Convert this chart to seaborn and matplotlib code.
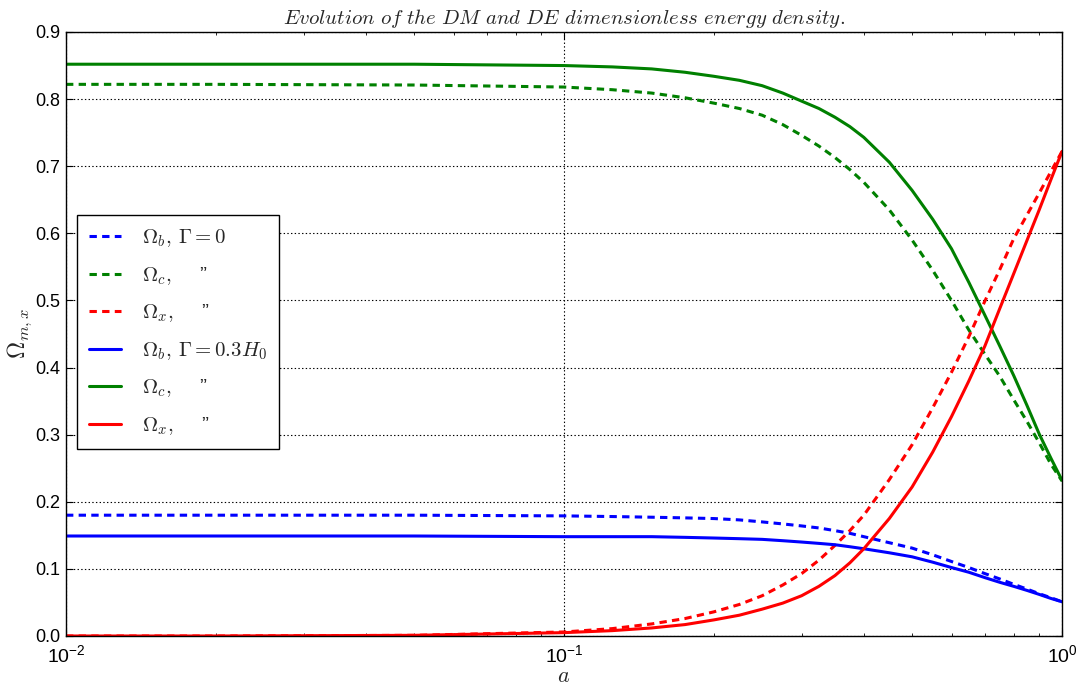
import numpy as np
import pandas as pd
import matplotlib
matplotlib.use("Agg")
import matplotlib.pyplot as plt
import seaborn as sns
from matplotlib.ticker import LogLocator

# ---- data ----
a_vals = [0.01, 0.02, 0.05, 0.1, 0.125, 0.15, 0.175, 0.2, 0.225, 0.25, 0.275, 0.3,
          0.325, 0.35, 0.375, 0.4, 0.45, 0.5, 0.55, 0.6, 0.65, 0.7, 0.75, 0.8,
          0.85, 0.9, 0.95, 1.0]

omega_b_g0 = [0.180, 0.180, 0.180, 0.179, 0.178, 0.177, 0.176, 0.175, 0.173, 0.170,
              0.167, 0.164, 0.161, 0.157, 0.153, 0.148, 0.139, 0.131, 0.121, 0.111,
              0.102, 0.093, 0.085, 0.077, 0.070, 0.063, 0.057, 0.051]
omega_c_g0 = [0.822, 0.822, 0.821, 0.818, 0.814, 0.809, 0.802, 0.794, 0.786, 0.776,
              0.762, 0.746, 0.730, 0.713, 0.695, 0.676, 0.635, 0.590, 0.545, 0.500,
              0.456, 0.420, 0.387, 0.352, 0.320, 0.288, 0.256, 0.231]
omega_x_g0 = [0.0, 0.0, 0.001, 0.006, 0.011, 0.018, 0.026, 0.036, 0.047, 0.060,
              0.076, 0.093, 0.113, 0.135, 0.157, 0.180, 0.233, 0.285, 0.340, 0.393,
              0.446, 0.499, 0.546, 0.592, 0.627, 0.660, 0.692, 0.722]

omega_b_g03 = [0.149, 0.149, 0.149, 0.148, 0.148, 0.148, 0.147, 0.146, 0.145, 0.144,
               0.142, 0.140, 0.138, 0.136, 0.133, 0.130, 0.124, 0.118, 0.110, 0.102,
               0.095, 0.087, 0.080, 0.074, 0.068, 0.062, 0.056, 0.051]
omega_c_g03 = [0.852, 0.852, 0.852, 0.850, 0.848, 0.845, 0.840, 0.834, 0.828, 0.820,
               0.809, 0.797, 0.786, 0.773, 0.759, 0.743, 0.706, 0.664, 0.621, 0.577,
               0.527, 0.478, 0.432, 0.388, 0.344, 0.301, 0.265, 0.232]
omega_x_g03 = [0.0, 0.0, 0.001, 0.005, 0.008, 0.012, 0.017, 0.024, 0.031, 0.040,
               0.049, 0.060, 0.074, 0.090, 0.109, 0.130, 0.175, 0.222, 0.274, 0.327,
               0.380, 0.432, 0.488, 0.540, 0.589, 0.635, 0.680, 0.722]

labels = [r'$\Omega_b,\, \Gamma=0$',
          r'$\Omega_c,\ \quad$' + '”',
          r'$\Omega_x,\ \quad$' + '”',
          r'$\Omega_b,\, \Gamma=0.3H_0$',
          r'$\Omega_c,\ \quad$' + '”',
          r'$\Omega_x,\ \quad$' + '”']
series = [omega_b_g0, omega_c_g0, omega_x_g0, omega_b_g03, omega_c_g03, omega_x_g03]
colors = ['#0000ff', '#008000', '#ff0000', '#0000ff', '#008000', '#ff0000']
dashed = [True, True, True, False, False, False]

title = 'Evolution of the DM and DE dimensionless energy density.'

# ---- style ----
sns.set_style("ticks")
plt.rcParams['font.family'] = ['Liberation Sans', 'DejaVu Sans']
plt.rcParams['mathtext.fontset'] = 'cm'
plt.rcParams['lines.scale_dashes'] = False

fig = plt.figure(figsize=(10.83, 6.88), dpi=100)
ax = fig.add_axes([66 / 1083, 52 / 688, 996 / 1083, 604 / 688])

for lab, vals, col, dsh in zip(labels, series, colors, dashed):
    df = pd.DataFrame({'a': a_vals, 'omega': vals})
    sns.lineplot(data=df, x='a', y='omega', ax=ax, color=col, lw=2.2,
                 label=lab, sort=True)
    line = ax.get_lines()[-1]
    if dsh:
        line.set_dashes((5.3, 3.8))

ax.set_xscale('log')
ax.set_xlim(0.01, 1.0)
ax.set_ylim(0.0, 0.9)
ax.xaxis.set_major_locator(LogLocator(base=10))
ax.xaxis.set_minor_locator(LogLocator(base=10, subs=np.arange(2, 10)))
yt = np.arange(0, 0.91, 0.1)
ax.set_yticks(yt)
ax.set_yticklabels([f'{v:.1f}' for v in yt])

ax.tick_params(which='both', direction='in', top=True, right=True, colors='black',
               labelsize=13)
ax.tick_params(which='major', length=5, width=0.8)
ax.tick_params(which='minor', length=2.5, width=0.6)
ax.tick_params(axis='y', which='major', pad=4)
ax.tick_params(axis='x', which='major', pad=6, labelsize=14)

ax.grid(True, which='major', color='black', linestyle=':', linewidth=0.8)
for sp in ax.spines.values():
    sp.set_color('black')
    sp.set_linewidth(1.0)

ax.set_xlabel(r'$a$', fontsize=16, labelpad=0)
ax.set_ylabel(r'$\Omega_{m,x}$', fontsize=17, labelpad=1)
ax.set_title(r'$\mathit{' + title.replace(' ', r'\ ') + '}$', fontsize=15, pad=6)

leg = ax.legend(loc='center left', bbox_to_anchor=(0.011, 0.503), fontsize=15,
                frameon=True, fancybox=False, shadow=False, framealpha=1,
                edgecolor='black', handlelength=1.5, handletextpad=1.0,
                labelspacing=0.75, borderpad=0.6, borderaxespad=0.0)
leg.get_frame().set_linewidth(1.0)

fig.savefig('out.png', dpi=100)
